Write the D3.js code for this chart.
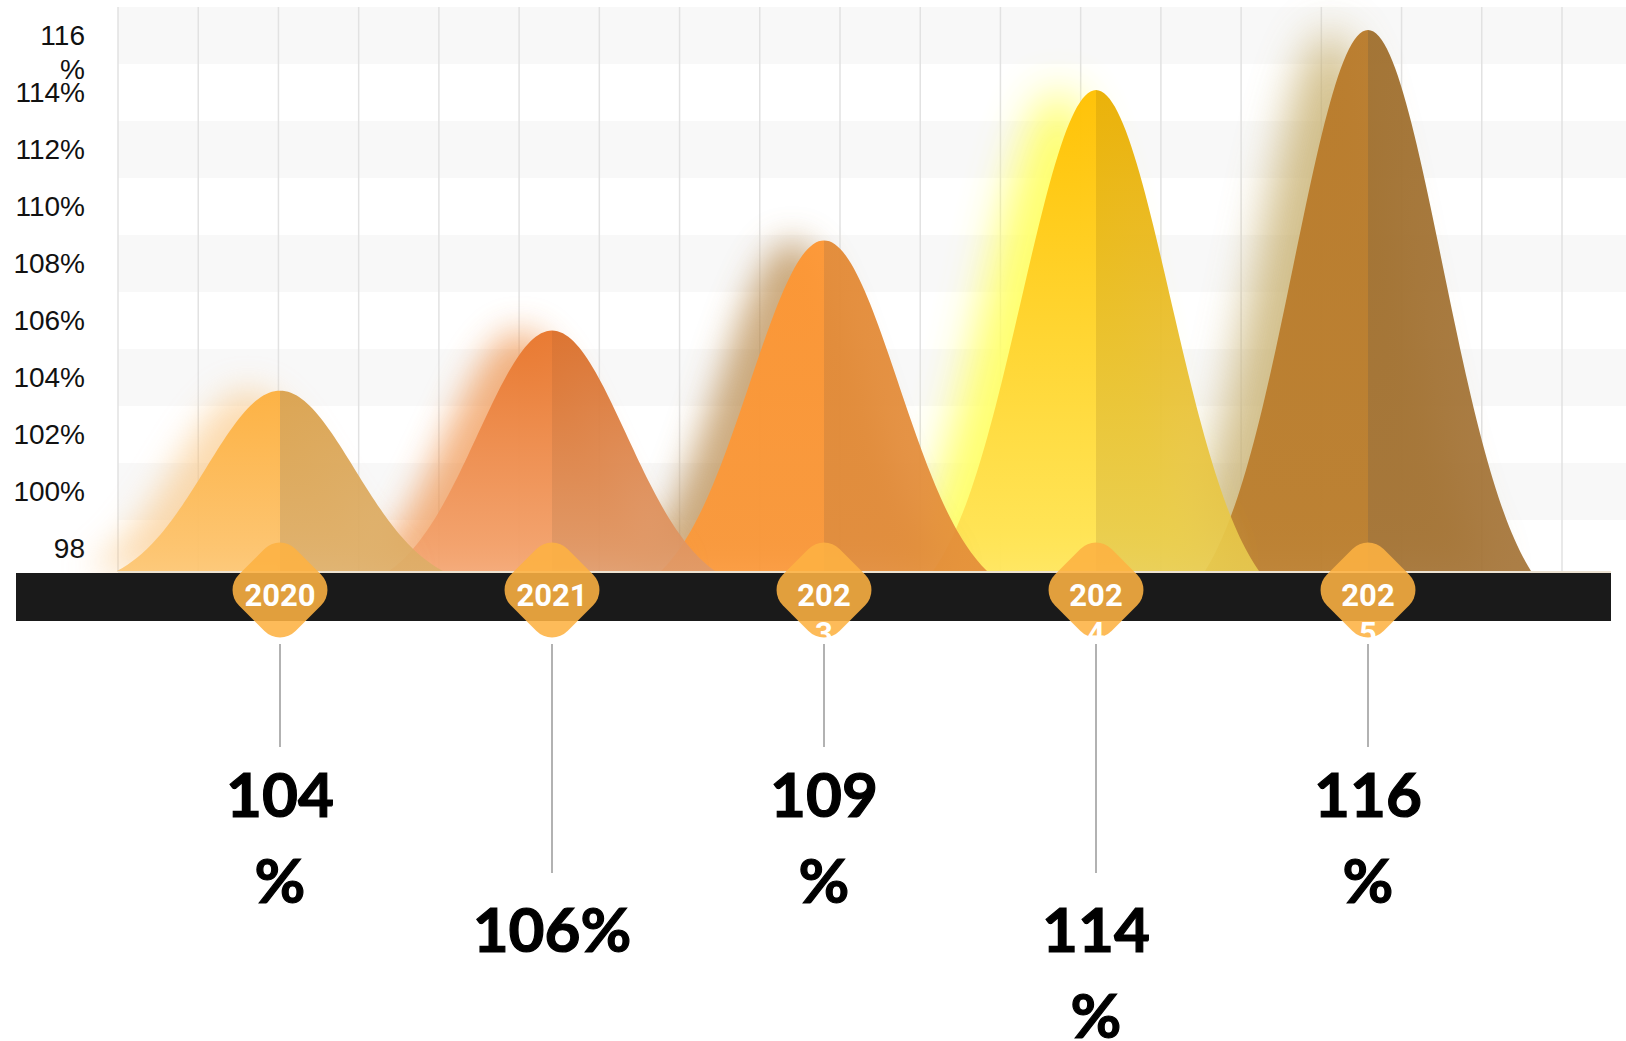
<!DOCTYPE html>
<html>
<head>
<meta charset="utf-8">
<script src="https://cdn.jsdelivr.net/npm/d3@7"></script>
<style>
body{margin:0;background:#fff;}
</style>
</head>
<body>
<svg width="1626" height="1041"></svg>
<script>
var years = ["2020","2021","2023","2024","2025"];
var values = [104,106,109,114,116];
var yTicks = [98,100,102,104,106,108,110,112,114,116];
// the original wraps some labels where its text box was too narrow
var yearWrap = [false,false,true,true,true];
var valueWrap = [true,false,true,true,true];

// colours: left half / right half, top / bottom of the gradient
var leftTop = ["#FDB03F","#E8762C","#FD9633","#FFC000","#B87A2A"];
var leftBot = ["#FDC570","#F4A673","#FD9838","#FFE45A","#BA7B2A"];
var rightTop = ["#DAA24E","#DB6F2A","#E38A36","#EAAF00","#A0702F"];
var rightBot = ["#DDAE68","#DF9A6A","#E38B38","#E8CB50","#A27032"];
var shadowCol = ["#F9C27A","#EE8A3C","#B8884A","#FFFF66","#C8B070"];
var shadowOp = [0.6,0.65,0.7,0.95,0.8];

var svg = d3.select("svg");
var defs = svg.append("defs");

var y = d3.scaleLinear().domain([97,117]).range([577,7]);
var yBar = d3.scaleLinear().domain([98,116]).range([571,30]);
var x = d3.scalePoint().domain(years).range([280,1368]);
var xGrid = d3.scaleLinear().domain([0,18]).range([118,1562]);
var base = 571;
var halfW = 163;

// striped background
svg.append("g").selectAll("rect")
	.data(d3.range(99,117,4))
	.join("rect")
	.attr("x",118)
	.attr("width",1626-118)
	.attr("y",function(d){return y(d+2);})
	.attr("height",function(d){return y(d)-y(d+2);})
	.attr("fill","#f8f8f8");

svg.append("g").selectAll("line")
	.data(d3.range(0,19))
	.join("line")
	.attr("x1",function(d){return xGrid(d);})
	.attr("x2",function(d){return xGrid(d);})
	.attr("y1",7)
	.attr("y2",572)
	.attr("stroke","#e2e2e2")
	.attr("stroke-width",1.5);

// y axis
var yAxis = svg.append("g")
	.attr("transform","translate(85,0)")
	.call(d3.axisLeft(y).tickValues(yTicks).tickFormat(function(d){return d+"%";}).tickSize(0).tickPadding(0));
yAxis.select(".domain").remove();
yAxis.selectAll("text")
	.attr("font-family","'Liberation Sans', Arial, sans-serif")
	.attr("font-size",28)
	.attr("fill","#111")
	.each(function(d,i){
		if(i==0 || i==yTicks.length-1){
			var t = d3.select(this);
			t.text(null);
			t.append("tspan").attr("x",0).text(d);
			t.append("tspan").attr("x",0).attr("dy","1.2em").text("%");
		}
	});

function bell(t){
	var k = 2.4;
	return (Math.exp(-k*t*t)-Math.exp(-k))/(1-Math.exp(-k));
}
var area = d3.area()
	.x(function(p){return p.x;})
	.y0(base)
	.y1(function(p){return p.y;});

function points(i,from,to){
	var cx = x(years[i]);
	var h = base - yBar(values[i]);
	return d3.range(0,61).map(function(j){
		var t = from + (to-from)*j/60;
		return {x: cx + t*halfW, y: base - h*bell(t)};
	});
}

function grad(id,c1,c2,op2){
	var g = defs.append("linearGradient").attr("id",id)
		.attr("x1",0).attr("y1",0).attr("x2",0).attr("y2",1);
	g.append("stop").attr("offset","0%").attr("stop-color",c1).attr("stop-opacity",0.96);
	g.append("stop").attr("offset","100%").attr("stop-color",c2).attr("stop-opacity",op2);
}

var bumps = svg.append("g");
for(var i=years.length-1;i>=0;i--){
	grad("gl"+i,leftTop[i],leftBot[i],0.9);
	grad("gr"+i,rightTop[i],rightBot[i],0.9);
	defs.append("filter").attr("id","blur"+i)
		.attr("x","-50%").attr("y","-50%").attr("width","200%").attr("height","200%")
		.append("feGaussianBlur").attr("stdDeviation",i==3||i==4?22:17);

	bumps.append("path")
		.attr("d",area(points(i,-1,1)))
		.attr("transform","translate("+(i==3||i==4?-38:-32)+",0)")
		.attr("fill",shadowCol[i])
		.attr("opacity",shadowOp[i])
		.attr("filter","url(#blur"+i+")");
	bumps.append("path")
		.attr("d",area(points(i,-1,0)))
		.attr("fill","url(#gl"+i+")");
	bumps.append("path")
		.attr("d",area(points(i,0,1)))
		.attr("fill","url(#gr"+i+")");
}

svg.append("line")
	.attr("x1",118).attr("x2",1611)
	.attr("y1",572).attr("y2",572)
	.attr("stroke","#ece2d2")
	.attr("stroke-width",2);

svg.append("rect")
	.attr("x",16).attr("y",573)
	.attr("width",1595).attr("height",48)
	.attr("fill","#1a1a1a");

// leader lines
svg.append("g").selectAll("line")
	.data(years)
	.join("line")
	.attr("x1",function(d){return x(d);})
	.attr("x2",function(d){return x(d);})
	.attr("y1",644)
	.attr("y2",function(d,i){return i%2 ? 873 : 747;})
	.attr("stroke","#999")
	.attr("stroke-width",1.5);

// year badges
var badge = svg.append("g").selectAll("g")
	.data(years)
	.join("g")
	.attr("transform",function(d){return "translate("+x(d)+",590)";});
badge.append("rect")
	.attr("x",-40).attr("y",-40)
	.attr("width",80).attr("height",80)
	.attr("rx",22)
	.attr("transform","rotate(45)")
	.attr("fill","#FDB242")
	.attr("opacity",0.88);
badge.append("text")
	.attr("y",16)
	.attr("text-anchor","middle")
	.attr("font-family","Roboto, sans-serif")
	.attr("font-weight",700)
	.attr("font-size",31)
	.attr("fill","#fff")
	.each(function(d,i){
		var t = d3.select(this);
		if(yearWrap[i]){
			t.append("tspan").attr("x",0).text(d.slice(0,3));
			t.append("tspan").attr("x",0).attr("dy",38).text(d.slice(3));
		}else{
			t.text(d);
		}
	});

// value labels
svg.append("g").selectAll("text")
	.data(values)
	.join("text")
	.attr("x",function(d,i){return x(years[i]);})
	.attr("y",function(d,i){return i%2 ? 952 : 817;})
	.attr("text-anchor","middle")
	.attr("font-family","Lato, sans-serif")
	.attr("font-weight",700)
	.attr("font-size",62)
	.attr("fill","#000")
	.attr("stroke","#000")
	.attr("stroke-width",1.2)
	.each(function(d,i){
		var t = d3.select(this);
		var cx = x(years[i]);
		if(valueWrap[i]){
			t.append("tspan").attr("x",cx).text(d);
			t.append("tspan").attr("x",cx).attr("dy",86).text("%");
		}else{
			t.text(d+"%");
		}
	});
</script>
</body>
</html>
